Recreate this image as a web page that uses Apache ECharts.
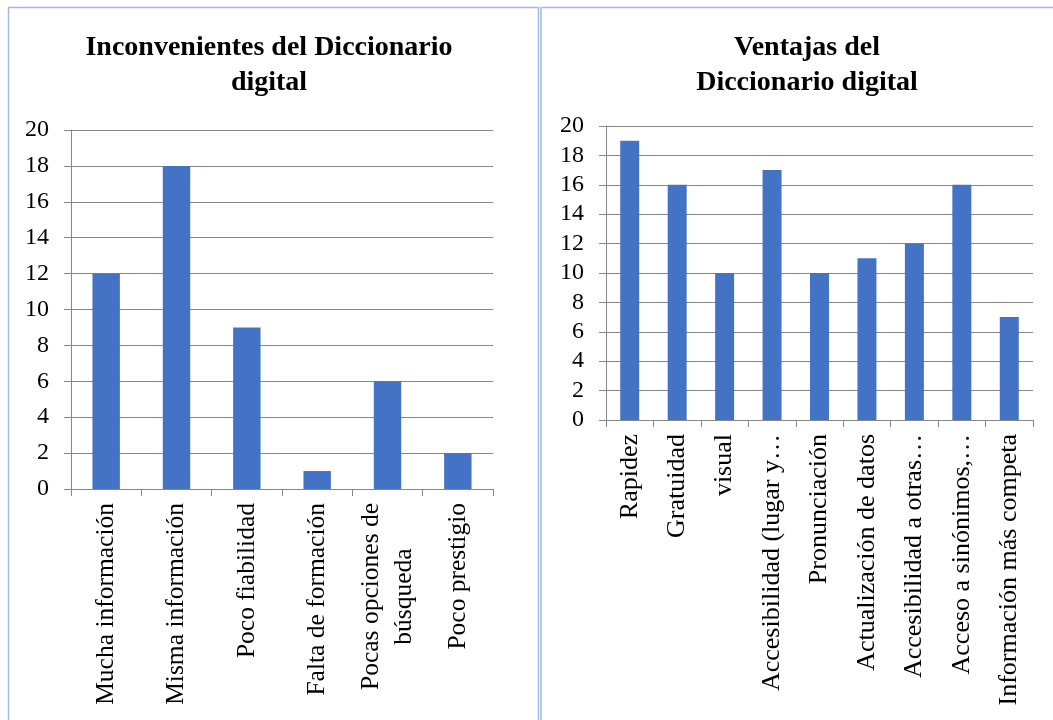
<!DOCTYPE html>
<html>
<head>
<meta charset="utf-8">
<script src="https://cdn.jsdelivr.net/npm/echarts@6/dist/echarts.min.js"></script>
<style>
  html, body { margin: 0; padding: 0; background: #fff; }
  #chart { width: 1053px; height: 720px; }
</style>
</head>
<body>
<div id="chart"></div>
<script>
// Inconvenientes
const contraCategories = ['Mucha información', 'Misma información', 'Poco fiabilidad', 'Falta de formación', 'Pocas opciones de\nbúsqueda', 'Poco prestigio'];
const contraValues = [12, 18, 9, 1, 6, 2];

// Ventajas
const proCategories = ['Rapidez', 'Gratuidad', 'visual', 'Accesibilidad (lugar y…', 'Pronunciación', 'Actualización de datos', 'Accesibilidad a otras…', 'Acceso a sinónimos,…', 'Información más competa'];
const proValues = [19, 16, 10, 17, 10, 11, 12, 16, 7];

const yTicks = { min: 0, max: 20, interval: 2 };

const serif = '"Liberation Serif", "DejaVu Serif", serif';
const gridGray = '#878787';
const barBlue = '#4472C4';

const myChart = echarts.init(document.getElementById('chart'));

function xAxisFor(gridIndex, data, size) {
    return {
        type: 'category',
        gridIndex: gridIndex,
        data: data,
        boundaryGap: true,
        axisLine: { lineStyle: { color: gridGray, width: 1 } },
        axisTick: { show: true, length: 7, lineStyle: { color: gridGray } },
        axisLabel: {
            interval: 0,
            rotate: 90,
            margin: 14,
            color: '#000',
            fontFamily: serif,
            fontSize: size,
            formatter: function (v) {
                return v.split('\n').map(function (l) { return '{c|' + l + '}'; }).join('\n');
            },
            rich: {
                c: { align: 'center', fontFamily: serif, fontSize: size, lineHeight: 33, color: '#000' }
            }
        }
    };
}

function yAxisFor(gridIndex) {
    return {
        type: 'value',
        gridIndex: gridIndex,
        min: yTicks.min,
        max: yTicks.max,
        interval: yTicks.interval,
        axisLine: { show: true, lineStyle: { color: gridGray, width: 1 } },
        axisTick: { show: true, length: 7, lineStyle: { color: gridGray } },
        axisLabel: { color: '#000', fontFamily: serif, fontSize: 24, margin: 22 },
        splitLine: { show: true, lineStyle: { color: gridGray, width: 1 } }
    };
}

const titleStyle = { fontFamily: serif, fontWeight: 'bold', fontSize: 28, lineHeight: 35, color: '#000' };

const option = {
    backgroundColor: '#fff',
    animation: false,
    title: [
        { text: 'Inconvenientes del Diccionario\ndigital', left: 264, top: 25, textAlign: 'center', textStyle: titleStyle },
        { text: 'Ventajas del\nDiccionario digital', left: 802, top: 25, textAlign: 'center', textStyle: titleStyle }
    ],
    graphic: [
        { type: 'rect', shape: { x: 8.5, y: 7.5, width: 530, height: 730 }, style: { fill: 'none', stroke: '#A4B9E8', lineWidth: 1.5 } },
        { type: 'rect', shape: { x: 541, y: 7.5, width: 530, height: 730 }, style: { fill: 'none', stroke: '#A4B9E8', lineWidth: 1.5 } }
    ],
    grid: [
        { left: 71, top: 130, width: 422, height: 359, containLabel: false },
        { left: 606, top: 126, width: 427, height: 294, containLabel: false }
    ],
    xAxis: [xAxisFor(0, contraCategories, 25.5), xAxisFor(1, proCategories, 26)],
    yAxis: [yAxisFor(0), yAxisFor(1)],
    series: [
        { type: 'bar', xAxisIndex: 0, yAxisIndex: 0, data: contraValues, barWidth: '39%', itemStyle: { color: barBlue } },
        { type: 'bar', xAxisIndex: 1, yAxisIndex: 1, data: proValues, barWidth: '40%', itemStyle: { color: barBlue } }
    ]
};

myChart.setOption(option);
</script>
</body>
</html>
